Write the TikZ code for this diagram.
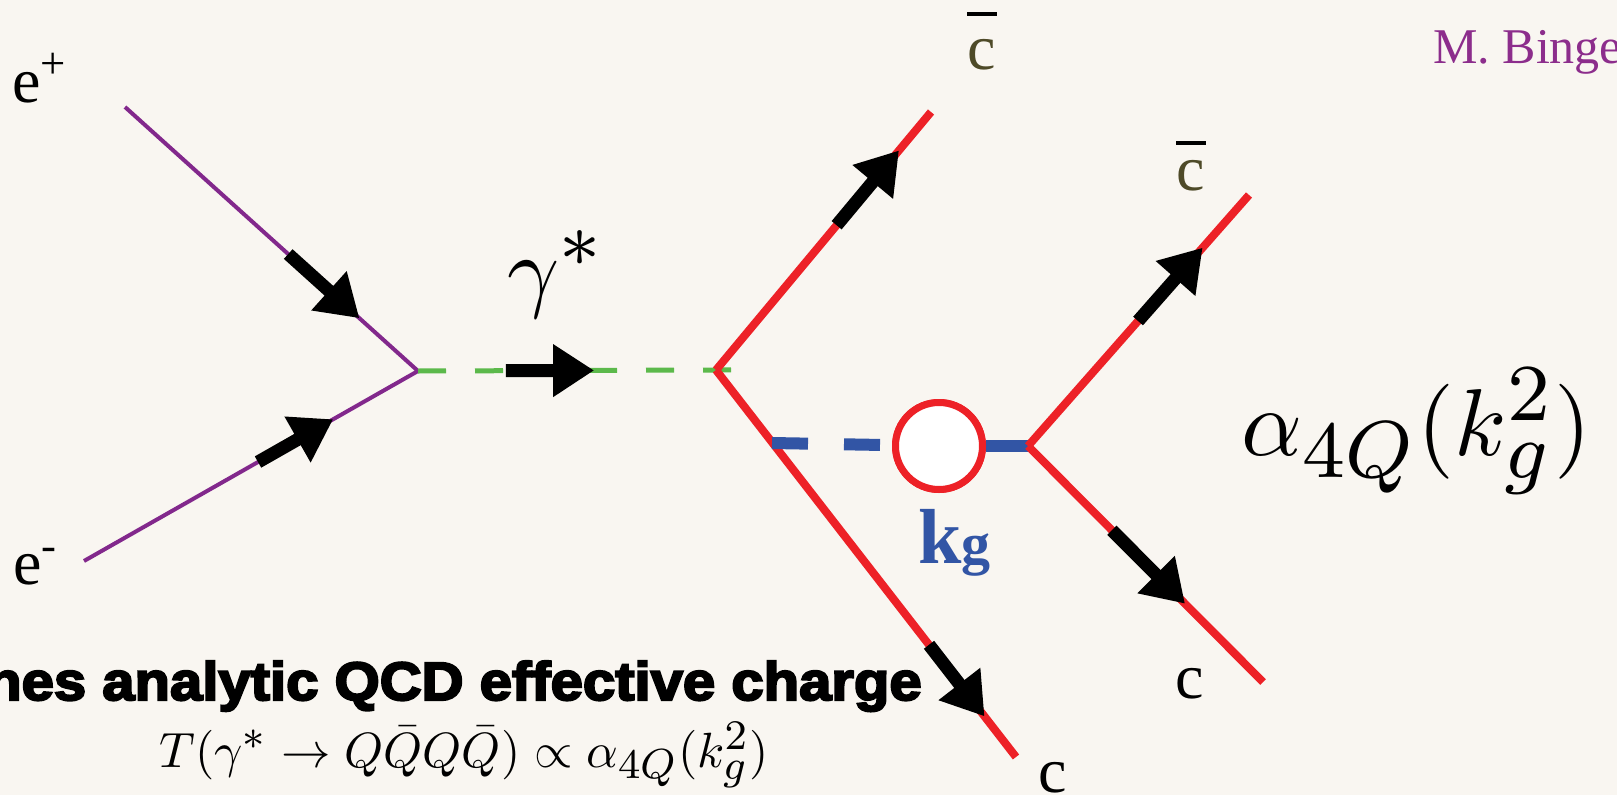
\documentclass[tikz,border=0pt]{standalone}
\usepackage{fix-cm}
\usepackage{fontspec}
\setmainfont{Liberation Serif}
\newfontfamily\claimfont{Liberation Sans}[FakeBold=4,FakeStretch=1.075]
\DeclareMathSizes{10}{10}{8.5}{6}
\usetikzlibrary{calc}
\usetikzlibrary{arrows.meta}
\usetikzlibrary{positioning}

\definecolor{bgcream}{RGB}{249,246,241}
\definecolor{epurple}{RGB}{130,40,140}
\definecolor{quarkred}{RGB}{237,33,39}
\definecolor{photongreen}{RGB}{92,185,75}
\definecolor{gluonblue}{RGB}{50,85,165}
\definecolor{cbarolive}{RGB}{78,74,40}
\definecolor{authorpurple}{RGB}{140,45,140}

\begin{document}
\begin{tikzpicture}[x=1pt,y=-1pt,
    eline/.style={epurple,line width=4pt},
    photon/.style={photongreen,line width=5pt,dash pattern=on 28pt off 29pt},
    quark/.style={quarkred,line width=8pt},
    gluon/.style={gluonblue,line width=12pt},
    flow/.style={black,line width=13pt,-{Triangle[length=41pt,width=50pt]}},
    blob/.style={circle,draw=quarkred,line width=7pt,fill=white,inner sep=0pt,minimum size=87pt},
    lab/.style={inner sep=0pt,font=\fontsize{64}{70}\selectfont},
    formula/.style={inner sep=0pt,transform shape},
    cbarline/.style={black,line width=4pt}]
    \fill[bgcream] (0,0) rectangle (1617,795);
    \useasboundingbox (0,0) rectangle (1617,795);

    \coordinate (eplus) at (125,107);
    \coordinate (eminus) at (84,561);
    \coordinate (vL) at (418,371);
    \coordinate (vM) at (716,370);
    \coordinate (qbarA) at (931,112);
    \coordinate (qA) at (1016,757);
    \coordinate (gstart) at (772,443);
    \coordinate (vR) at (1028,446);
    \coordinate (qbarB) at (1249,195);
    \coordinate (qB) at (1263,682);
    \node[blob] (blob) at (939,446) {};

    \draw[eline] (eplus) -- (vL);
    \draw[eline] (eminus) -- (vL);
    \draw[photon,shorten >=-16pt] (vL) -- (vM);
    \draw[quark] (vM) -- (qbarA);
    \draw[quark] (vM) -- (qA);
    \draw[gluon,dash pattern=on 36pt off 36pt] (gstart) -- (blob);
    \draw[gluon] (blob) -- (vR);
    \node[blob] at (blob) {};
    \draw[quark] (vR) -- (qbarB);
    \draw[quark] (vR) -- (qB);

    \draw[flow] ($(eplus)!0.557!(vL)$) -- ($(eplus)!0.80!(vL)$);
    \draw[flow] ($(eminus)!0.521!(vL)$) -- ($(eminus)!0.746!(vL)$);
    \draw[flow] ($(vL)!0.295!(vM)$) -- ($(vL)!0.591!(vM)$);
    \draw[flow] ($(vM)!0.561!(qbarA)$) -- ($(vM)!0.851!(qbarA)$);
    \draw[flow] ($(vM)!0.71!(qA)$) -- ($(vM)!0.895!(qA)$);
    \draw[flow] ($(vR)!0.498!(qbarB)$) -- ($(vR)!0.79!(qbarB)$);
    \draw[flow] ($(vR)!0.357!(qB)$) -- ($(vR)!0.668!(qB)$);

    \node[lab,anchor=base west] (epluslabel) at (12,102) {e\textsuperscript{+}};
    \node[lab,anchor=base west] (eminuslabel) at (13,584) {e\textsuperscript{-}};
    \node[formula,scale=9.1,anchor=base west] (gammalabel) at (506,300) {$\gamma^*$};
    \node[lab,text=cbarolive] (cbarAlabel) at (982,55) {c};
    \draw[cbarline] ([xshift=-15pt,yshift=25pt]cbarAlabel.north) -- ++(30,0);
    \node[lab,text=cbarolive] (cbarBlabel) at (1191,176) {c};
    \draw[cbarline] ([xshift=-15pt,yshift=17pt]cbarBlabel.north) -- ++(30,0);
    \node[lab] (cAlabel) at (1053,778) {c};
    \node[lab] (cBlabel) at (1190,684) {c};
    \node[inner sep=0pt,anchor=base west,text=gluonblue,font=\bfseries] (kglabel) at (918,563)
        {\fontsize{78}{80}\selectfont k\fontsize{58}{60}\selectfont g};
    \node[formula,scale=9.5,anchor=base west] (alphalabel) at (1240,455) {$\alpha_{4Q}(k_g^2)$};
    \node[inner sep=0pt,anchor=base east,font=\claimfont\bfseries\fontsize{54}{60}\selectfont] (claim) at (922,700)
        {nes analytic QCD effective charge};
    \node[formula,scale=4.95,anchor=base] (amplitude) at (464,767)
        {$T(\gamma^*\to Q\bar QQ\bar Q)\propto\alpha_{4Q}(k_g^2)$};
    \node[inner sep=0pt,anchor=base west,text=authorpurple,font=\fontsize{50}{55}\selectfont] (author) at (1433,63)
        {M. Binge};
\end{tikzpicture}
\end{document}
